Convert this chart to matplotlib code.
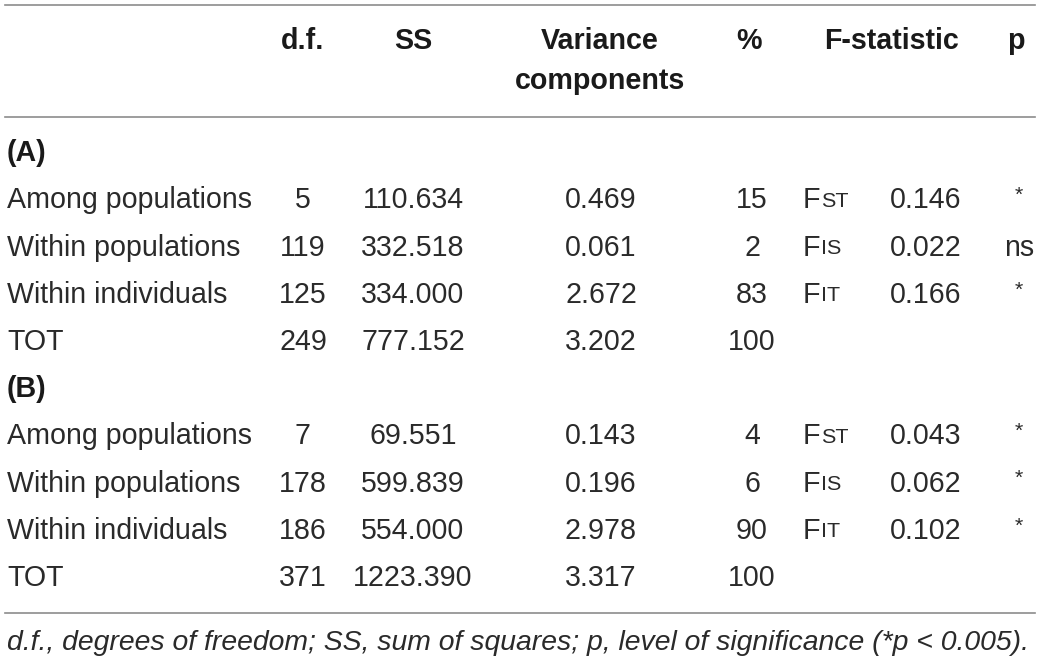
import matplotlib
matplotlib.use("Agg")
import matplotlib.pyplot as plt
from matplotlib.lines import Line2D

# === DATA ===
sections = ["(A)", "(B)"]
row_labels = ["Among populations", "Within populations", "Within individuals", "TOT"]
df_a = ["5", "119", "125", "249"]
ss_a = ["110.634", "332.518", "334.000", "777.152"]
vc_a = ["0.469", "0.061", "2.672", "3.202"]
pct_a = ["15", "2", "83", "100"]
fval_a = ["0.146", "0.022", "0.166", ""]
p_a = ["*", "ns", "*", ""]
df_b = ["7", "178", "186", "371"]
ss_b = ["69.551", "599.839", "554.000", "1223.390"]
vc_b = ["0.143", "0.196", "2.978", "3.317"]
pct_b = ["4", "6", "90", "100"]
fval_b = ["0.043", "0.062", "0.102", ""]
p_b = ["*", "*", "*", ""]
f_names = [("F", "ST"), ("F", "IS"), ("F", "IT"), None]
headers = ["d.f.", "SS", "Variance\ncomponents", "%", "F-statistic", "p"]
footnote = "d.f., degrees of freedom; SS, sum of squares; p, level of significance (*p < 0.005)."

# === LAYOUT (pixels) ===
W, H = 1040, 662
FONT = "Liberation Sans"
TXT = "#2a2a2a"
LINE = "#8c8c8c"
FS = 20.6

fig = plt.figure(figsize=(W / 100, H / 100), dpi=100)


def put(x, y, s, ha="center", size=FS, weight="normal", style="normal", color=TXT):
    fig.text(x / W, 1 - y / H, s, ha=ha, va="center", fontsize=size,
             fontweight=weight, fontstyle=style, family=FONT, color=color)


def hline(y):
    fig.add_artist(Line2D([5 / W, 1035 / W], [1 - y / H, 1 - y / H],
                          color=LINE, lw=1.2))


hline(5)
hline(117)
hline(613)

# header
head_x = [303, 413, 600, 749, 891, 1016]
for hx, h in zip(head_x, headers):
    if "\n" in h:
        a, b = h.split("\n")
        put(hx, 41, a, weight="bold", color="#1a1a1a")
        put(hx, 81, b, weight="bold", color="#1a1a1a")
    else:
        put(hx, 41, h, weight="bold", color="#1a1a1a")

row_step = 47.3
col_x = [303, 413, 601, 752]
sec_y = [153, 389]
for si, (sec, cols, fv, pv) in enumerate([
        ("(A)", [df_a, ss_a, vc_a, pct_a], fval_a, p_a),
        ("(B)", [df_b, ss_b, vc_b, pct_b], fval_b, p_b)]):
    y0 = sec_y[si]
    put(7, y0, sec, ha="left", weight="bold", color="#1a1a1a")
    for ri, lab in enumerate(row_labels):
        y = y0 + row_step * (ri + 1)
        put(7, y, lab, ha="left")
        for cx, col in zip(col_x, cols):
            put(cx, y, col[ri])
        if f_names[ri] is not None:
            big, small = f_names[ri]
            put(803, y, big, ha="left")
            put(821, y + 1, small, ha="left", size=FS * 0.75)
        if fv[ri]:
            put(926, y, fv[ri])
        if pv[ri]:
            if pv[ri] == "*":
                put(1019, y - 5, pv[ri], size=FS * 0.75)
            else:
                put(1019, y, pv[ri])

put(7, 643, footnote, ha="left", size=20.4, style="italic")

fig.savefig("out.png", dpi=100)
